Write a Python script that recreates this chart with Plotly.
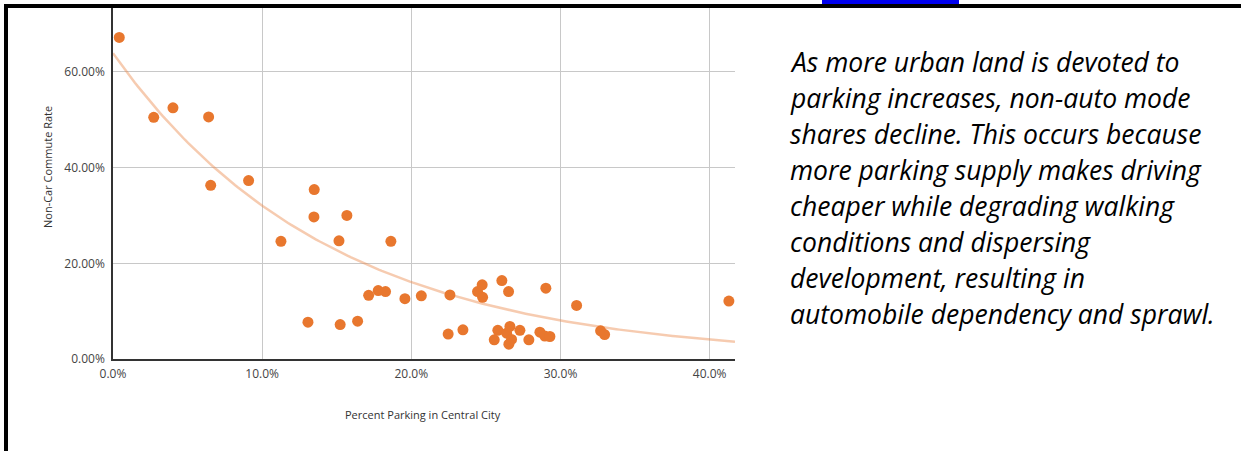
import numpy as np
import plotly.graph_objects as go

W, H = 1241, 451

# Data (percent units)
parking_pct = [0.42, 2.73, 4.02, 6.41, 6.55, 9.09, 11.26, 13.49, 13.47, 15.68, 15.15, 18.63,
               13.07, 15.23, 16.40, 17.14, 17.78, 18.27, 19.57, 20.67,
               22.59, 22.47, 23.46, 24.44, 24.75, 24.78, 26.07, 26.52, 29.02, 31.08,
               25.80, 25.56, 26.39, 26.61, 26.72, 26.54, 27.28, 27.88, 28.62, 28.95, 29.29,
               32.69, 32.96, 41.29]
noncar_pct = [67.2, 50.5, 52.5, 50.6, 36.3, 37.3, 24.6, 35.4, 29.7, 30.0, 24.7, 24.6,
              7.7, 7.2, 7.9, 13.3, 14.3, 14.1, 12.6, 13.2,
              13.4, 5.2, 6.1, 14.1, 15.5, 12.9, 16.4, 14.1, 14.8, 11.2,
              6.0, 4.0, 5.4, 6.8, 4.1, 3.1, 6.0, 4.0, 5.6, 4.8, 4.7,
              5.9, 5.1, 12.1]

# Exponential trendline coefficients as shown in the chart: y = a * exp(b * x)
trend_a = 63.9
trend_b = -0.069

x_tickvals = [0, 10, 20, 30, 40]
x_ticktext = ["0.0%", "10.0%", "20.0%", "30.0%", "40.0%"]
y_tickvals = [0, 20, 40, 60]
y_ticktext = ["0.00%", "20.00%", "40.00%", "60.00%"]

x_title = "Percent Parking in Central City"
y_title = "Non-Car Commute Rate"

note_lines = [
    "As more urban land is devoted to",
    "parking increases, non-auto mode",
    "shares decline. This occurs because",
    "more parking supply makes driving",
    "cheaper while degrading walking",
    "conditions and dispersing",
    "development, resulting in",
    "automobile dependency and sprawl.",
]

x_max = 41.7
tx = np.linspace(0, x_max, 200)
ty = trend_a * np.exp(trend_b * tx)

# pixel layout helpers
px_left, px_right = 113, 735
py_top, py_bottom = 7, 359

def fx(p):
    return p / W

def fy(p):
    return 1 - p / H

fig = go.Figure()
fig.add_trace(go.Scatter(x=tx, y=ty, mode="lines",
                         line=dict(color="rgba(236,140,80,0.45)", width=2.5),
                         hoverinfo="skip", showlegend=False))
fig.add_trace(go.Scatter(x=parking_pct, y=noncar_pct, mode="markers",
                         marker=dict(color="#E8772E", size=11, line=dict(width=0)),
                         showlegend=False))

tick_font = dict(family="Open Sans", size=12, color="#444444")

fig.update_layout(
    width=W, height=H,
    margin=dict(l=0, r=0, t=0, b=0),
    paper_bgcolor="white", plot_bgcolor="white",
    xaxis=dict(domain=[fx(px_left), fx(px_right)], range=[0, x_max],
               tickvals=x_tickvals, ticktext=x_ticktext, tickfont=tick_font,
               showgrid=True, gridcolor="#c8c8c8", gridwidth=1,
               showline=True, linecolor="#333333", linewidth=1.5,
               zeroline=False, ticks="", ticklabelstandoff=3, automargin=False),
    yaxis=dict(domain=[fy(py_bottom), fy(py_top)], range=[0, (py_bottom - py_top) / 4.785],
               tickvals=y_tickvals, ticktext=y_ticktext, tickfont=tick_font,
               showgrid=True, gridcolor="#c8c8c8", gridwidth=1,
               showline=True, linecolor="#333333", linewidth=1.5,
               zeroline=False, ticks="", ticklabelstandoff=4, automargin=False),
)

# axis titles
fig.add_annotation(text=x_title, xref="paper", yref="paper", x=fx(423), y=fy(414),
                   showarrow=False, font=dict(family="Open Sans", size=11, color="#333333"),
                   xanchor="center", yanchor="middle")
fig.add_annotation(text=y_title, xref="paper", yref="paper", x=fx(47), y=fy(167),
                   showarrow=False, textangle=-90,
                   font=dict(family="Open Sans", size=11, color="#333333"),
                   xanchor="center", yanchor="middle")

# note text
line_y0, line_dy = 62, 36
for i, line in enumerate(note_lines):
    fig.add_annotation(text="<i>" + line + "</i>", xref="paper", yref="paper",
                       x=fx(788), y=fy(line_y0 + i * line_dy),
                       showarrow=False, xanchor="left", yanchor="middle",
                       font=dict(family="Open Sans", size=26.5, color="#000000"))

# page border (black) and clipped link underline
fig.add_shape(type="rect", xref="paper", yref="paper", x0=fx(4), x1=1, y0=fy(8), y1=fy(4),
              fillcolor="black", line=dict(width=0), layer="above")
fig.add_shape(type="rect", xref="paper", yref="paper", x0=fx(4), x1=fx(8), y0=0, y1=fy(4),
              fillcolor="black", line=dict(width=0), layer="above")
fig.add_shape(type="rect", xref="paper", yref="paper", x0=fx(822), x1=fx(959), y0=fy(4), y1=1,
              fillcolor="#0000ee", line=dict(width=0), layer="above")

fig.write_html("out.html", config={"displayModeBar": False},
               post_script="document.body.style.margin='0';document.body.style.overflow='hidden';")
